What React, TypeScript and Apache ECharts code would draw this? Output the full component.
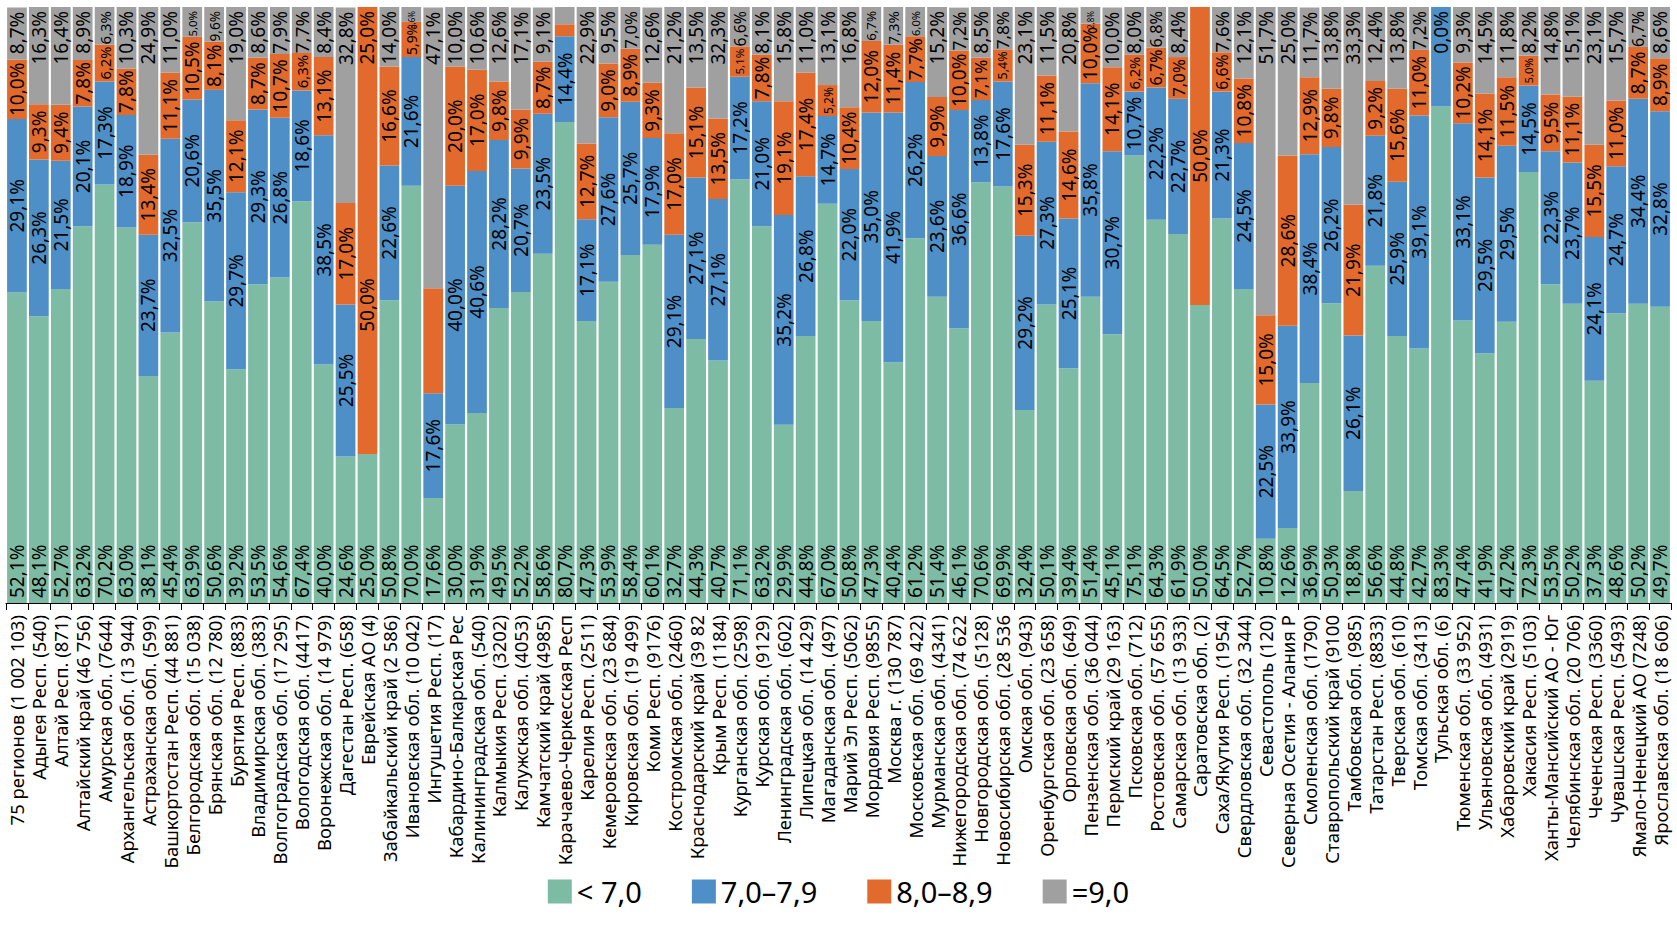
import React, { useEffect, useRef } from "react";
import * as echarts from "echarts";

const categories: string[] = [
  "75 регионов (1 002 103)", "Адыгея Респ. (540)", "Алтай Респ. (871)", "Алтайский край (46 756)",
  "Амурская обл. (7644)", "Архангельская обл. (13 944)", "Астраханская обл. (599)", "Башкортостан Респ. (44 881)",
  "Белгородская обл. (15 038)", "Брянская обл. (12 780)", "Бурятия Респ. (883)", "Владимирская обл. (383)",
  "Волгоградская обл. (17 295)", "Вологодская обл. (4417)", "Воронежская обл. (14 979)", "Дагестан Респ. (658)",
  "Еврейская АО (4)", "Забайкальский край (2 586)", "Ивановская обл. (10 042)", "Ингушетия Респ. (17)",
  "Кабардино-Балкарская Респ.", "Калининградская обл. (540)", "Калмыкия Респ. (3202)", "Калужская обл. (4053)",
  "Камчатский край (4985)", "Карачаево-Черкесская Респ.", "Карелия Респ. (2511)", "Кемеровская обл. (23 684)",
  "Кировская обл. (19 499)", "Коми Респ. (9176)", "Костромская обл. (2460)", "Краснодарский край (39 825)",
  "Крым Респ. (1184)", "Курганская обл. (2598)", "Курская обл. (9129)", "Ленинградская обл. (602)",
  "Липецкая обл. (14 429)", "Магаданская обл. (497)", "Марий Эл Респ. (5062)", "Мордовия Респ. (9855)",
  "Москва г. (130 787)", "Московская обл. (69 422)", "Мурманская обл. (4341)", "Нижегородская обл. (74 622)",
  "Новгородская обл. (5128)", "Новосибирская обл. (28 536)", "Омская обл. (943)", "Оренбургская обл. (23 658)",
  "Орловская обл. (649)", "Пензенская обл. (36 044)", "Пермский край (29 163)", "Псковская обл. (712)",
  "Ростовская обл. (57 655)", "Самарская обл. (13 933)", "Саратовская обл. (2)", "Саха/Якутия Респ. (1954)",
  "Свердловская обл. (32 344)", "Севастополь (120)", "Северная Осетия - Алания Респ. (124)", "Смоленская обл. (1790)",
  "Ставропольский край (9100)", "Тамбовская обл. (985)", "Татарстан Респ. (8833)", "Тверская обл. (610)",
  "Томская обл. (3413)", "Тульская обл. (6)", "Тюменская обл. (33 952)", "Ульяновская обл. (4931)",
  "Хабаровский край (2919)", "Хакасия Респ. (5103)", "Ханты-Мансийский АО - Югра АО", "Челябинская обл. (20 706)",
  "Чеченская Респ. (3360)", "Чувашская Респ. (5493)", "Ямало-Ненецкий АО (7248)", "Ярославская обл. (18 606)",
];

const seriesNames: string[] = ["< 7,0", "7,0–7,9", "8,0–8,9", "=9,0"];

const below70: (number | null)[] = [
  52.1, 48.1, 52.7, 63.2, 70.2, 63.0, 38.1, 45.4, 63.9, 50.6, 39.2, 53.5, 54.6, 67.4, 40.0, 24.6,
  25.0, 50.8, 70.0, 17.6, 30.0, 31.9, 49.5, 52.2, 58.6, 80.7, 47.3, 53.9, 58.4, 60.1, 32.7, 44.3,
  40.7, 71.1, 63.2, 29.9, 44.8, 67.0, 50.8, 47.3, 40.4, 61.2, 51.4, 46.1, 70.6, 69.9, 32.4, 50.1,
  39.4, 51.4, 45.1, 75.1, 64.3, 61.9, 50.0, 64.5, 52.7, 10.8, 12.6, 36.9, 50.3, 18.8, 56.6, 44.8,
  42.7, 83.3, 47.4, 41.9, 47.2, 72.3, 53.5, 50.2, 37.3, 48.6, 50.2, 49.7,
];

const from70to79: (number | null)[] = [
  29.1, 26.3, 21.5, 20.1, 17.3, 18.9, 23.7, 32.5, 20.6, 35.5, 29.7, 29.3, 26.8, 18.6, 38.5, 25.5,
  null, 22.6, 21.6, 17.6, 40.0, 40.6, 28.2, 20.7, 23.5, 14.4, 17.1, 27.6, 25.7, 17.9, 29.1, 27.1,
  27.1, 17.2, 21.0, 35.2, 26.8, 14.7, 22.0, 35.0, 41.9, 26.2, 23.6, 36.6, 13.8, 17.6, 29.2, 27.3,
  25.1, 35.8, 30.7, 10.7, 22.2, 22.7, null, 21.3, 24.5, 22.5, 33.9, 38.4, 26.2, 26.1, 21.8, 25.9,
  39.1, 16.7, 33.1, 29.5, 29.5, 14.5, 22.3, 23.7, 24.1, 24.7, 34.4, 32.8,
];

const from80to89: (number | null)[] = [
  10.0, 9.3, 9.4, 7.8, 6.2, 7.8, 13.4, 11.1, 10.5, 8.1, 12.1, 8.7, 10.7, 6.3, 13.1, 17.0,
  50.0, 16.6, 5.9, 17.6, 20.0, 17.0, 9.8, 9.9, 8.7, 2.0, 12.7, 9.0, 8.9, 9.3, 17.0, 15.1,
  13.5, 5.1, 7.8, 19.1, 17.4, 5.2, 10.4, 12.0, 11.4, 7.7, 9.9, 10.0, 7.1, 5.4, 15.3, 11.1,
  14.6, 10.0, 14.1, 6.2, 6.7, 7.0, 50.0, 6.6, 10.8, 15.0, 28.6, 12.9, 9.8, 21.9, 9.2, 15.6,
  11.0, null, 10.2, 14.1, 11.5, 5.0, 9.5, 11.1, 15.5, 11.0, 8.7, 8.9,
];

const equal90: (number | null)[] = [
  8.7, 16.3, 16.4, 8.9, 6.3, 10.3, 24.9, 11.0, 5.0, 9.6, 19.0, 8.6, 7.9, 7.7, 8.4, 32.8,
  25.0, 14.0, 3.6, 47.1, 10.0, 10.6, 12.6, 17.1, 9.1, 2.9, 22.9, 9.5, 7.0, 12.6, 21.2, 13.5,
  32.3, 6.6, 8.1, 15.8, 11.0, 13.1, 16.8, 6.7, 7.3, 6.0, 15.2, 7.2, 8.5, 7.8, 23.1, 11.5,
  20.8, 2.8, 10.0, 8.0, 6.8, 8.4, null, 7.6, 12.1, 51.7, 25.0, 11.7, 13.8, 33.3, 12.4, 13.8,
  7.2, 0.0, 9.3, 14.5, 11.8, 8.2, 14.8, 15.1, 23.1, 15.7, 6.7, 8.6,
];

// segments drawn without a value label in the reference (category indices)
const unlabeledBlue: number[] = [65];
const unlabeledOrange: number[] = [19, 25];
const unlabeledGrey: number[] = [25];
// segments drawn in the orange colour in the reference
const greyShownOrange: number[] = [16];

const COLORS = ["#7DBBA4", "#4E8FC7", "#E26A2C", "#A0A0A0"];
const FONT = "'Noto Sans', 'DejaVu Sans', sans-serif";

const W = 1677;
const H = 936;
const GRID = { left: 6, right: 6, top: 7, bottom: 333 };
const PX_PER_PCT = (H - GRID.top - GRID.bottom) / 100;
const LABEL_FS = 19;
const AXIS_FS = 18.5;
const AXIS_LABEL_MAX = 254;

const fmt = (v: number) => v.toFixed(1).replace(".", ",") + "%";
const textEm = (s: string) =>
  s.split("").reduce((a, ch) => a + (/[0-9]/.test(ch) ? 0.56 : ch === "," ? 0.26 : ch === "%" ? 0.8 : 0.55), 0);

// cut long category labels to the fixed label band, as in the reference
function makeTruncator() {
  let ctx: CanvasRenderingContext2D | null = null;
  try {
    ctx = document.createElement("canvas").getContext("2d");
  } catch (e) {
    ctx = null;
  }
  const cache: Record<string, string> = {};
  return (s: string) => {
    if (cache[s] !== undefined) return cache[s];
    if (!ctx) return s;
    ctx.font = `${AXIS_FS}px 'Noto Sans', 'DejaVu Sans', sans-serif`;
    let t = s;
    while (t.length > 1 && ctx.measureText(t).width > AXIS_LABEL_MAX) t = t.slice(0, -1);
    cache[s] = t.replace(/\s+$/, "");
    return cache[s];
  };
}

function buildOption() {
  const all = [below70, from70to79, from80to89, equal90];
  const hidden = [[], unlabeledBlue, unlabeledOrange, unlabeledGrey] as number[][];
  const truncate = makeTruncator();

  const labelBase: any[] = [
    { position: "insideBottom", align: "left", verticalAlign: "middle", distance: 5 },
    { position: "inside", align: "center", verticalAlign: "middle" },
    { position: "inside", align: "center", verticalAlign: "middle" },
    { position: "insideTop", align: "right", verticalAlign: "middle", distance: 4 },
  ];

  const series = all.map((arr, si) => {
    const data = arr.map((v, i) => {
      if (v === null) return null;
      let prev = 0;
      for (let k = 0; k < si; k++) prev += all[k][i] ?? 0;
      const visible = Math.max(0, Math.min(v, 100 - prev));
      const txt = fmt(v);
      let fs = LABEL_FS;
      if (v > 0) {
        fs = Math.max(8, Math.min(LABEL_FS, (visible * PX_PER_PCT - 5) / textEm(txt)));
      }
      const item: any = { value: v, label: { fontSize: Math.round(fs * 10) / 10 } };
      if (hidden[si].includes(i)) item.label = { show: false };
      if (si === 3 && greyShownOrange.includes(i)) item.itemStyle = { color: COLORS[2] };
      return item;
    });
    return {
      name: seriesNames[si],
      type: "bar",
      stack: "total",
      barCategoryGap: "10%",
      clip: true,
      itemStyle: { color: COLORS[si] },
      label: {
        show: true,
        rotate: 90,
        color: "#000",
        fontFamily: FONT,
        fontSize: LABEL_FS,
        formatter: (p: any) => fmt(Number(p.value)),
        ...labelBase[si],
      },
      emphasis: { disabled: true },
      data,
    };
  });

  return {
    animation: false,
    backgroundColor: "#ffffff",
    textStyle: { fontFamily: FONT },
    grid: { ...GRID, containLabel: false },
    legend: {
      data: seriesNames,
      bottom: 25,
      left: "center",
      icon: "rect",
      itemWidth: 24,
      itemHeight: 24,
      itemGap: 50,
      textStyle: { fontSize: 29, color: "#000", fontFamily: FONT },
      selectedMode: false,
    },
    xAxis: {
      type: "category",
      data: categories,
      axisLine: { show: true, lineStyle: { color: "#000", width: 1 } },
      axisTick: { show: true, length: 7, lineStyle: { color: "#000" } },
      axisLabel: {
        interval: 0,
        rotate: 90,
        margin: 12,
        fontSize: AXIS_FS,
        color: "#000",
        fontFamily: FONT,
        formatter: (v: string) => truncate(v),
      },
    },
    yAxis: {
      type: "value",
      min: 0,
      max: 100,
      show: false,
      splitLine: { show: false },
    },
    series,
  };
}

export default function App() {
  const ref = useRef<HTMLDivElement>(null);
  useEffect(() => {
    if (!ref.current) return;
    const chart = echarts.init(ref.current, null, { renderer: "svg" });
    chart.setOption(buildOption() as any);
    return () => chart.dispose();
  }, []);
  return (
    <div
      ref={ref}
      style={{ position: "fixed", left: 0, top: 0, width: W + "px", height: H + "px", background: "#fff" }}
    />
  );
}
